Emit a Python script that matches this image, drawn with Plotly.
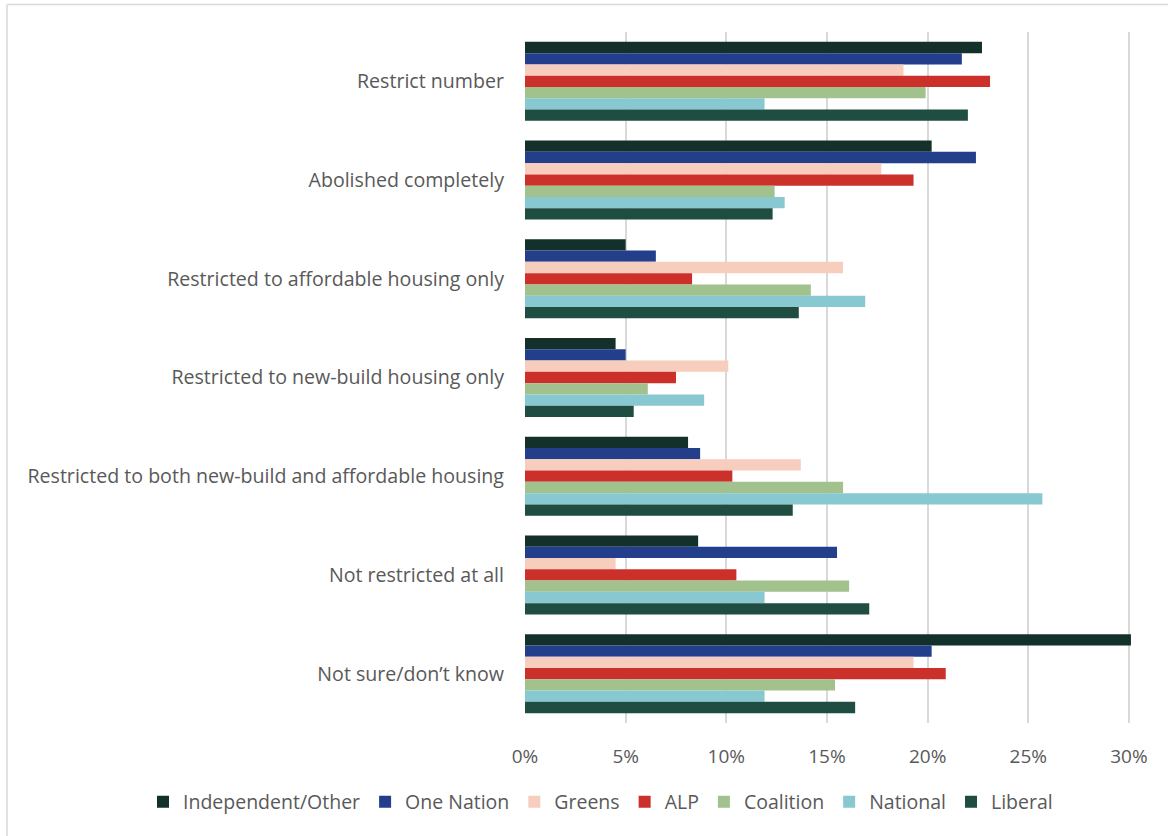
import plotly.graph_objects as go

categories = [
    "Restrict number",
    "Abolished completely",
    "Restricted to affordable housing only",
    "Restricted to new-build housing only",
    "Restricted to both new-build and affordable housing",
    "Not restricted at all",
    "Not sure/don\u2019t know",
]

series_names = ["Independent/Other", "One Nation", "Greens", "ALP", "Coalition", "National", "Liberal"]

independent_other = [22.7, 20.2, 5.0, 4.5, 8.1, 8.6, 30.1]
one_nation = [21.7, 22.4, 6.5, 5.0, 8.7, 15.5, 20.2]
greens = [18.8, 17.7, 15.8, 10.1, 13.7, 4.5, 19.3]
alp = [23.1, 19.3, 8.3, 7.5, 10.3, 10.5, 20.9]
coalition = [19.9, 12.4, 14.2, 6.1, 15.8, 16.1, 15.4]
national = [11.9, 12.9, 16.9, 8.9, 25.7, 11.9, 11.9]
liberal = [22.0, 12.3, 13.6, 5.4, 13.3, 17.1, 16.4]

series_values = [independent_other, one_nation, greens, alp, coalition, national, liberal]
colors = ["#14302a", "#233f8c", "#f7cdbd", "#cc302b", "#a1c28d", "#88c8d0", "#1f4d42"]

tick_vals = [0, 0.05, 0.10, 0.15, 0.20, 0.25, 0.30]
tick_text = ["0%", "5%", "10%", "15%", "20%", "25%", "30%"]

W, H = 1168, 836
L, R, T, B = 525, 29, 32, 113
FONT = "Open Sans"
TXT = "#595959"

fig = go.Figure()
for name, vals, col in zip(series_names, series_values, colors):
    fig.add_trace(go.Bar(
        y=categories, x=[v / 100 for v in vals], name=name, orientation="h",
        marker=dict(color=col, line=dict(width=0)),
    ))

plot_w = W - L - R
plot_h = H - T - B

def px_x(p):
    return (p - L) / plot_w

def px_y(p):
    return (H - B - p) / plot_h

fig.update_layout(
    width=W, height=H,
    margin=dict(l=L, r=R, t=T, b=B, autoexpand=False),
    barmode="group", bargap=0.2, bargroupgap=0,
    plot_bgcolor="white", paper_bgcolor="white",
    font=dict(family=FONT, color=TXT, size=18),
    xaxis=dict(range=[0, 0.305], tickvals=tick_vals, ticktext=tick_text,
               showgrid=True, gridcolor="#d9d9d9", gridwidth=1.5,
               zeroline=False, showline=False, ticks="",
               ticklabelstandoff=20, tickfont=dict(size=19, color=TXT)),
    yaxis=dict(autorange="reversed", showgrid=False, zeroline=False, showline=False,
               ticks="", ticklabelstandoff=20, tickfont=dict(size=19.6, color=TXT)),
    legend=dict(orientation="h", xref="paper", yref="paper",
                x=px_x(143), xanchor="left", y=px_y(802), yanchor="middle",
                font=dict(size=19.5, color=TXT), traceorder="normal",
                itemwidth=30, tracegroupgap=0),
    shapes=[
        dict(type="line", xref="paper", yref="paper",
             x0=px_x(7), x1=px_x(W + 5), y0=px_y(4.5), y1=px_y(4.5),
             line=dict(color="#d9d9d9", width=1.5)),
        dict(type="line", xref="paper", yref="paper",
             x0=px_x(7), x1=px_x(7), y0=px_y(4.5), y1=px_y(H + 5),
             line=dict(color="#d9d9d9", width=1.5)),
    ],
)

fig.write_html("out.html")
